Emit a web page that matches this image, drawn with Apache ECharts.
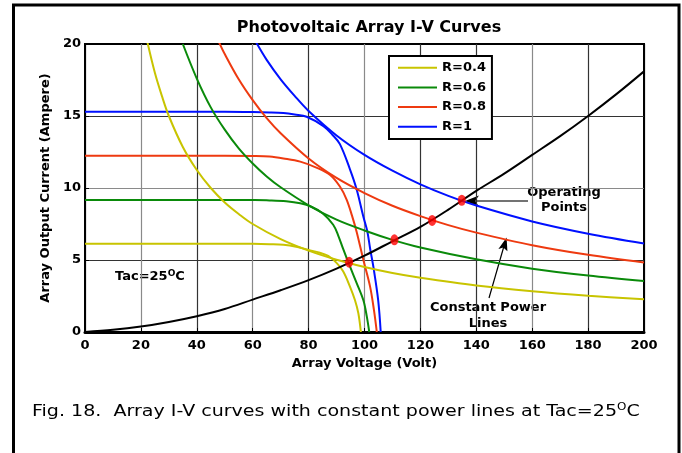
<!DOCTYPE html>
<html>
<head>
<meta charset="utf-8">
<title>Photovoltaic Array I-V Curves</title>
<script src="https://cdn.jsdelivr.net/npm/echarts@6/dist/echarts.min.js"></script>
<style>
  html, body { margin: 0; padding: 0; background: #fff; }
  #chart { width: 682px; height: 453px; }
</style>
</head>
<body>
<div id="chart"></div>
<script>
// irradiance levels shown in the legend
const curveNames = ["R=0.4", "R=0.6", "R=0.8", "R=1"];

// array I-V curves, [voltage, current]
const ivR04 = [[0, 6.13], [50, 6.13], [60, 6.12], [66, 6.1], [71, 6.06], [76, 5.9], [80, 5.7], [84, 5.5], [87, 5.28], [90, 4.8], [92.4, 4.2], [94.8, 3.15], [96.6, 2.2], [97.8, 1.3], [98.7, 0]];
const ivR06 = [[0, 9.17], [50, 9.17], [60, 9.16], [66, 9.14], [72, 9.08], [77, 8.94], [81, 8.7], [85, 8.25], [88.8, 7.45], [90.6, 6.7], [92.4, 5.75], [94.8, 4.55], [97.2, 3.4], [99.6, 2.2], [100.8, 1.1], [101.7, 0]];
const ivR08 = [[0, 12.24], [50, 12.24], [60, 12.22], [66, 12.18], [71, 12.05], [77, 11.83], [83, 11.4], [87.7, 10.9], [91.2, 10.1], [93.6, 9.2], [95.5, 8.1], [97.2, 6.95], [99.6, 5.0], [102, 3.15], [103.4, 1.5], [104.4, 0]];
const ivR10 = [[0, 15.3], [50, 15.3], [60, 15.28], [66, 15.25], [71, 15.2], [75, 15.1], [79.3, 14.95], [85.3, 14.3], [88.5, 13.7], [91.2, 13.05], [94.8, 11.3], [97.2, 9.9], [99.6, 8.0], [101, 7.0], [102, 5.8], [103.2, 4.5], [104.9, 2.2], [105.8, 0]];

// constant power lines, [voltage, current]
const powerR04 = [[22, 20.4], [25, 18.0], [27.5, 16.4], [30, 15.0], [35, 12.85], [40, 11.25], [45, 10.0], [50, 9.0], [55, 8.2], [60, 7.5], [70, 6.45], [80, 5.65], [90, 5.02], [100, 4.52], [110, 4.1], [120, 3.77], [140, 3.23], [160, 2.83], [180, 2.52], [200, 2.27]];
const powerR06 = [[35, 20.0], [40, 17.6], [45, 15.6], [50, 14.05], [55, 12.75], [60, 11.7], [65, 10.8], [70, 10.05], [80, 8.8], [90, 7.8], [100, 7.05], [110, 6.4], [120, 5.87], [140, 5.05], [160, 4.4], [180, 3.92], [200, 3.54]];
const powerR08 = [[48, 20.1], [50, 19.3], [55, 17.55], [60, 16.1], [65, 14.85], [70, 13.8], [80, 12.05], [90, 10.7], [100, 9.65], [110, 8.77], [120, 8.05], [130, 7.42], [140, 6.9], [160, 6.03], [180, 5.36], [200, 4.83]];
const powerR10 = [[61, 20.2], [65, 18.9], [70, 17.55], [75, 16.4], [80, 15.35], [90, 13.65], [100, 12.3], [110, 11.2], [120, 10.25], [130, 9.45], [140, 8.78], [160, 7.68], [180, 6.83], [200, 6.15]];

// load line through the operating points
const loadLine = [[0, 0], [10, 0.15], [20, 0.38], [30, 0.7], [40, 1.1], [50, 1.6], [60, 2.25], [70, 2.9], [80, 3.6], [90, 4.4], [100, 5.3], [110, 6.3], [120, 7.3], [130, 8.5], [140, 9.8], [150, 11.0], [160, 12.3], [170, 13.6], [180, 15.0], [190, 16.5], [200, 18.1]];
const operatingPoints = [[94.5, 4.85], [110.7, 6.4], [124.2, 7.75], [134.8, 9.15]];

const colors = ["#c8c400", "#0a8a0a", "#ee3a10", "#0010ff"];
const font = '"DejaVu Sans", sans-serif';
// the scanned grid alternates light and dark lines
const xGridColors = ["#000", "#8a8a8a", "#333", "#8a8a8a", "#333", "#8a8a8a", "#333", "#333", "#8a8a8a", "#333", "#000"];
const yGridColors = ["#000", "#333", "#8a8a8a", "#333", "#000"];

function curve(name, data, color) {
  return {
    name: name,
    type: "line",
    data: data,
    symbol: "none",
    smooth: 0.35,
    lineStyle: { color: color, width: 2 },
    itemStyle: { color: color },
    silent: true,
  };
}

const chart = echarts.init(document.getElementById("chart"));

chart.setOption({
  animation: false,
  backgroundColor: "#fff",
  textStyle: { fontFamily: font },
  title: {
    text: "Photovoltaic Array I-V Curves",
    left: 364,
    textAlign: "center",
    top: 15,
    textStyle: { fontFamily: font, fontSize: 16, fontWeight: "bold", color: "#000" },
  },
  legend: {
    data: curveNames,
    orient: "vertical",
    left: 389,
    top: 56,
    padding: [5.2, 6, 5.7, 9],
    itemGap: 6.7,
    itemWidth: 39,
    itemHeight: 2,
    icon: "rect",
    selectedMode: false,
    backgroundColor: "#fff",
    borderColor: "#000",
    borderWidth: 2,
    textStyle: { fontFamily: font, fontSize: 13, fontWeight: "bold", color: "#000" },
  },
  grid: {
    left: 85,
    right: 38,
    top: 44,
    bottom: 121,
    show: true,
    borderColor: "#000",
    borderWidth: 2,
  },
  xAxis: {
    type: "value",
    min: 0,
    max: 200,
    interval: 20,
    name: "Array Voltage (Volt)",
    nameLocation: "middle",
    nameGap: 23,
    nameTextStyle: { fontFamily: font, fontSize: 13, fontWeight: "bold", color: "#000" },
    axisLine: { lineStyle: { color: "#000", width: 3 } },
    axisTick: { inside: true, length: 4, lineStyle: { color: "#000" } },
    axisLabel: { margin: 7, fontFamily: font, fontSize: 13, fontWeight: "bold", color: "#000" },
    splitLine: { lineStyle: { color: xGridColors, width: 1.2 } },
  },
  yAxis: {
    type: "value",
    min: 0,
    max: 20,
    interval: 5,
    name: "Array Output Current (Ampere)",
    nameLocation: "middle",
    nameGap: 29,
    nameRotate: 90,
    nameTextStyle: { fontFamily: font, fontSize: 13, fontWeight: "bold", color: "#000" },
    axisLine: { lineStyle: { color: "#000", width: 2 } },
    axisTick: { inside: true, length: 4, lineStyle: { color: "#000" } },
    axisLabel: { margin: 4, fontFamily: font, fontSize: 13, fontWeight: "bold", color: "#000" },
    splitLine: { lineStyle: { color: yGridColors, width: 1.2 } },
  },
  series: [
    curve(curveNames[0], ivR04, colors[0]),
    curve(curveNames[1], ivR06, colors[1]),
    curve(curveNames[2], ivR08, colors[2]),
    curve(curveNames[3], ivR10, colors[3]),
    curve("P " + curveNames[0], powerR04, colors[0]),
    curve("P " + curveNames[1], powerR06, colors[1]),
    curve("P " + curveNames[2], powerR08, colors[2]),
    curve("P " + curveNames[3], powerR10, colors[3]),
    curve("Load", loadLine, "#000"),
    {
      name: "Operating Points",
      type: "scatter",
      data: operatingPoints,
      symbol: "circle",
      symbolSize: [8, 11],
      itemStyle: { color: "#ff0000" },
      z: 5,
    },
  ],
  graphic: [
    // outer figure frame
    {
      type: "rect",
      shape: { x: 13.5, y: 5, width: 665.5, height: 460 },
      style: { fill: null, stroke: "#000", lineWidth: 3 },
      silent: true,
    },
    {
      type: "text",
      x: 115,
      y: 277,
      style: {
        text: "{a|Tac=25}{s|O}{a|C}",
        verticalAlign: "middle",
        rich: {
          a: { fontFamily: font, fontSize: 13, fontWeight: "bold", fill: "#000", lineHeight: 16 },
          s: { fontFamily: font, fontSize: 9, fontWeight: "bold", fill: "#000", verticalAlign: "top", lineHeight: 12 },
        },
      },
    },
    {
      type: "text",
      x: 564,
      y: 200,
      style: {
        text: "Operating\nPoints",
        align: "center",
        verticalAlign: "middle",
        lineHeight: 15,
        fontFamily: font,
        fontSize: 13,
        fontWeight: "bold",
        fill: "#000",
      },
    },
    {
      type: "line",
      shape: { x1: 528, y1: 201, x2: 472, y2: 201 },
      style: { stroke: "#444", lineWidth: 1.5 },
    },
    {
      type: "polygon",
      shape: { points: [[465, 201], [479, 195.5], [475, 201], [479, 206.5]] },
      style: { fill: "#000" },
    },
    {
      type: "text",
      x: 488,
      y: 316,
      style: {
        text: "Constant Power\nLines",
        align: "center",
        verticalAlign: "middle",
        lineHeight: 16,
        fontFamily: font,
        fontSize: 13,
        fontWeight: "bold",
        fill: "#000",
      },
    },
    {
      type: "line",
      shape: { x1: 489, y1: 298, x2: 504, y2: 246 },
      style: { stroke: "#000", lineWidth: 1.2 },
    },
    {
      type: "polygon",
      shape: { points: [[506.6, 237.4], [507.4, 251.3], [503.3, 247.5], [498.4, 248.9]] },
      style: { fill: "#000" },
    },
    {
      type: "text",
      x: 32,
      y: 412,
      scaleX: 1.19,
      style: {
        text: "{a|Fig. 18.  Array I-V curves with constant power lines at Tac=25}{s|O}{a|C}",
        verticalAlign: "middle",
        rich: {
          a: { fontFamily: font, fontSize: 16, fill: "#000", lineHeight: 19 },
          s: { fontFamily: font, fontSize: 10, fill: "#000", verticalAlign: "top", lineHeight: 13 },
        },
      },
    },
  ],
});
</script>
</body>
</html>
